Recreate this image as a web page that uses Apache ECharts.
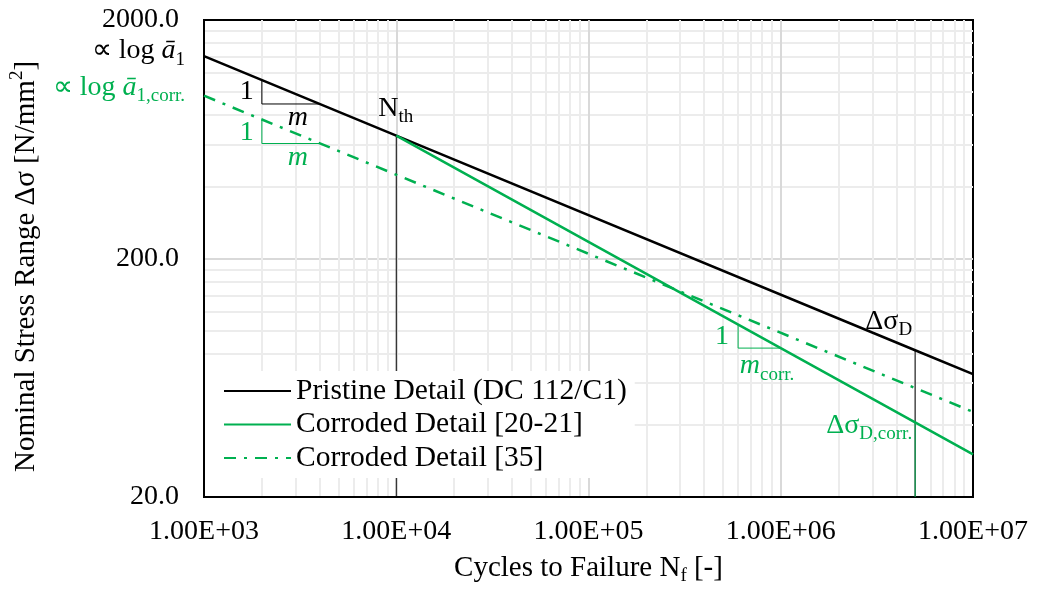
<!DOCTYPE html>
<html>
<head>
<meta charset="utf-8">
<script src="https://cdn.jsdelivr.net/npm/echarts@6/dist/echarts.min.js"></script>
<style>
html, body { margin: 0; padding: 0; background: #fff; }
#chart { width: 1037px; height: 596px; }
</style>
</head>
<body>
<div id="chart"></div>
<script>
// S-N curves, values (N cycles, stress range in N/mm2)
var pristineN = [1e3, 1e4, 5e6, 1e7];
var pristineS = [1411, 655, 82.5, 65.5];
var corrN = [1e4, 5e6, 1e7];
var corrS = [655, 41.1, 30.2];
var corr35N = [1e3, 1e7];
var corr35S = [963, 45.5];

// thin helper lines (Nth, cut-off limits)
var nthN = [1e4, 1e4];
var nthS = [655, 20];
var cutN = [5e6, 5e6];
var cutS = [82.5, 20];
var cutCorrN = [5e6, 5e6];
var cutCorrS = [41.1, 20];

// slope triangles
var triN = [2000, 2000, 4000];
var triS = [1120, 889, 889];
var tri35N = [2000, 2000, 4000];
var tri35S = [764, 607, 607];
var triCorrN = [6e5, 6e5, 1e6];
var triCorrS = [105.8, 84.2, 84.2];

// axis ticks
var xTicks = [1e3, 1e4, 1e5, 1e6, 1e7];
var yTicks = [20, 200, 2000];
var yUnit = yTicks[0]; // y log axis runs in units of 20 so decades fall on 20/200/2000

var FONT = 'Liberation Serif';
var GREEN = '#00b050';

function pts(ns, ss) {
  return ns.map(function (n, i) { return [n, ss[i] / yUnit]; });
}

function xLabel(v) {
  var e = Math.round(Math.log10(v));
  var m = v / Math.pow(10, e);
  return m.toFixed(2) + 'E+' + (e < 10 ? '0' : '') + e;
}

function thin(name, ns, ss, color) {
  return {
    name: name, type: 'line', data: pts(ns, ss), symbol: 'none',
    lineStyle: { color: color, width: 1 }, silent: true, z: 3
  };
}

var gridLines = { show: true, showMinLine: false, showMaxLine: false, lineStyle: { color: '#d9d9d9', width: 2 } };
var minorLines = { show: true, lineStyle: { color: '#ececec', width: 2 } };

var myChart = echarts.init(document.getElementById('chart'));

var option = {
  animation: false,
  backgroundColor: '#fff',
  grid: { left: 204, right: 64, top: 20, bottom: 99, show: true, borderColor: '#000', borderWidth: 2 },
  legend: {
    data: ['Pristine Detail (DC 112/C1)', 'Corroded Detail [20-21]', 'Corroded Detail [35]'],
    orient: 'vertical',
    left: 205, top: 371,
    padding: [5, 8, 5, 18],
    itemGap: 3.5,
    itemWidth: 67, itemHeight: 14,
    backgroundColor: '#fff',
    itemStyle: { opacity: 0 },
    textStyle: { fontFamily: FONT, fontSize: 29.5, color: '#000', lineHeight: 28 }
  },
  xAxis: {
    type: 'log', logBase: 10, min: xTicks[0], max: xTicks[xTicks.length - 1],
    name: '{a|Cycles to Failure N}{s|f}{a| [-]}',
    nameLocation: 'middle', nameGap: 53,
    nameTextStyle: {
      rich: {
        a: { fontFamily: FONT, fontSize: 29, lineHeight: 36, color: '#000' },
        s: { fontFamily: FONT, fontSize: 19, lineHeight: 18, verticalAlign: 'bottom', color: '#000' }
      }
    },
    axisLine: { lineStyle: { color: '#000', width: 2 } },
    axisTick: { show: false },
    axisLabel: { fontFamily: FONT, fontSize: 28, color: '#000', margin: 21, formatter: xLabel },
    splitLine: gridLines,
    minorTick: { show: false, splitNumber: 9 },
    minorSplitLine: minorLines
  },
  yAxis: {
    type: 'log', logBase: 10, min: yTicks[0] / yUnit, max: yTicks[yTicks.length - 1] / yUnit,
    name: '{a|Nominal Stress Range Δσ [N/mm}{t|2}{a|]}',
    nameLocation: 'middle', nameGap: 160, nameMoveOverlap: false,
    nameTextStyle: {
      padding: [0, 16, 0, 0],
      rich: {
        a: { fontFamily: FONT, fontSize: 29, lineHeight: 36, color: '#000' },
        t: { fontFamily: FONT, fontSize: 19, lineHeight: 18, verticalAlign: 'top', color: '#000' }
      }
    },
    axisLine: { lineStyle: { color: '#000', width: 2 } },
    axisTick: { show: false },
    axisLabel: {
      fontFamily: FONT, fontSize: 28, color: '#000', margin: 25,
      formatter: function (v) { return (v * yUnit).toFixed(1); }
    },
    splitLine: gridLines,
    minorTick: { show: false, splitNumber: 9 },
    minorSplitLine: minorLines
  },
  series: [
    thin('nth', nthN, nthS, '#000'),
    thin('cut', cutN, cutS, '#000'),
    thin('cutCorr', cutCorrN, cutCorrS, GREEN),
    thin('tri', triN, triS, '#000'),
    thin('tri35', tri35N, tri35S, GREEN),
    thin('triCorr', triCorrN, triCorrS, GREEN),
    {
      name: 'Pristine Detail (DC 112/C1)', type: 'line', symbol: 'none', z: 5,
      data: pts(pristineN, pristineS),
      lineStyle: { color: '#000', width: 2.5 }, itemStyle: { color: '#000' }
    },
    {
      name: 'Corroded Detail [20-21]', type: 'line', symbol: 'none', z: 5,
      data: pts(corrN, corrS),
      lineStyle: { color: GREEN, width: 2.5 }, itemStyle: { color: GREEN }
    },
    {
      name: 'Corroded Detail [35]', type: 'line', symbol: 'none', z: 5,
      data: pts(corr35N, corr35S),
      lineStyle: { color: GREEN, width: 2.5, type: [12, 8, 3, 8] }, itemStyle: { color: GREEN }
    }
  ]
};

myChart.setOption(option);

// annotation texts, anchored to points of the curves
function px(n, s) {
  return myChart.convertToPixel({ gridIndex: 0 }, [n, s / yUnit]);
}

function rich(color) {
  return {
    n: { fontFamily: FONT, fontSize: 28, lineHeight: 36, fill: color },
    i: { fontFamily: FONT, fontSize: 28, lineHeight: 36, fontStyle: 'italic', fill: color },
    s: { fontFamily: FONT, fontSize: 19, lineHeight: 18, verticalAlign: 'bottom', fill: color }
  };
}

function note(text, n, s, dx, dy, color, align) {
  var p = px(n, s);
  return {
    type: 'text', x: p[0] + dx, y: p[1] + dy, z: 100,
    style: { text: text, rich: rich(color), fill: color, align: align, verticalAlign: 'middle' }
  };
}

myChart.setOption({
  graphic: [
    note('{n|∝ log }{i|ā}{s|1}', 1e3, 1411, -19, -5, '#000', 'right'),
    note('{n|∝ log }{i|ā}{s|1,corr.}', 1e3, 963, -19, -8, GREEN, 'right'),
    note('{n|1}', 2000, 1000, -15, 0, '#000', 'center'),
    note('{i|m}', 4000, 889, -22, 14, '#000', 'center'),
    note('{n|1}', 2000, 680, -15, 1, GREEN, 'center'),
    note('{i|m}', 4000, 607, -22, 14, GREEN, 'center'),
    note('{n|N}{s|th}', 1e4, 655, -18, -27, '#000', 'left'),
    note('{n|Δσ}{s|D}', 5e6, 82.5, -3, -29, '#000', 'right'),
    note('{n|1}', 6e5, 95, -16, 1, GREEN, 'center'),
    note('{i|m}{s|corr.}', 1e6, 84.2, -41, 18, GREEN, 'left'),
    note('{n|Δσ}{s|D,corr.}', 5e6, 41.1, -3, 3, GREEN, 'right')
  ]
});
</script>
</body>
</html>
